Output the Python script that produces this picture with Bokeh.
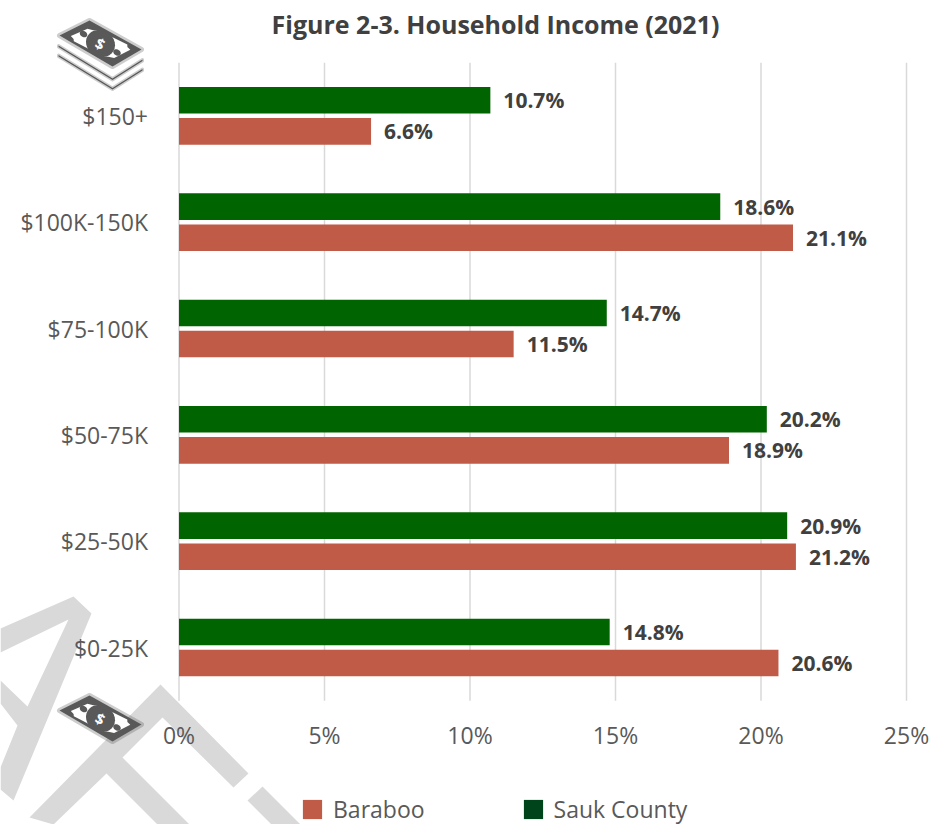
import math

from bokeh.core.properties import value
from bokeh.embed import file_html
from bokeh.models import ColumnDataSource, FixedTicker, Label, Legend, LegendItem, PolyAnnotation, Range1d
from bokeh.plotting import figure
from bokeh.resources import INLINE

categories = ["$0-25K", "$25-50K", "$50-75K", "$75-100K", "$100K-150K", "$150+"]
baraboo = [20.6, 21.2, 18.9, 11.5, 21.1, 6.6]
sauk_county = [14.8, 20.9, 20.2, 14.7, 18.6, 10.7]
x_ticks = [0, 5, 10, 15, 20, 25]

FONT = "Open Sans"
AXIS_TEXT = "#595959"
LABEL_TEXT = "#404040"
RUST = "#bf5b47"
GREEN = "#006400"
LEGEND_GREEN = "#00441b"
GRID = "#d9d9d9"
ICON = "#595959"

WIDTH, HEIGHT = 951, 824
PX_PER_PCT = 29.1
PX_PER_ROW = 106.33
ZERO_X = 178.5
FIRST_ROW_Y = 647

rows = list(range(len(categories)))
OFFSET = 0.146
BAR = 0.25
ROW_EDGE = 0.5

source = ColumnDataSource(dict(
    sauk_y=[r + OFFSET for r in rows],
    baraboo_y=[r - OFFSET for r in rows],
    baraboo=baraboo,
    sauk=sauk_county,
    baraboo_text=[f"{v:.1f}%" for v in baraboo],
    sauk_text=[f"{v:.1f}%" for v in sauk_county],
))

# The frame fills the page so that the icons and watermark can sit beyond the plotted area.
p = figure(
    width=WIDTH, height=HEIGHT,
    x_range=Range1d(-ZERO_X / PX_PER_PCT, (WIDTH - ZERO_X) / PX_PER_PCT),
    y_range=Range1d(-(HEIGHT - FIRST_ROW_Y) / PX_PER_ROW, FIRST_ROW_Y / PX_PER_ROW),
    output_backend="svg", toolbar_location=None,
    min_border=0, outline_line_color=None, background_fill_color="white", border_fill_color="white",
)

p.grid.visible = False

# Vertical rules stop at the category band instead of running the full height of the frame.
p.segment(
    x0=x_ticks, x1=x_ticks,
    y0=[rows[0] - ROW_EDGE] * len(x_ticks), y1=[rows[-1] + ROW_EDGE] * len(x_ticks),
    line_color=GRID, line_width=1.5,
)

p.xaxis.ticker = FixedTicker(ticks=x_ticks)
p.xaxis.major_label_overrides = {t: f"{t}%" for t in x_ticks}
p.xaxis.fixed_location = rows[0] - ROW_EDGE
p.xaxis.major_label_standoff = 12
p.yaxis.ticker = FixedTicker(ticks=rows)
p.yaxis.major_label_overrides = dict(zip(rows, categories))
p.yaxis.fixed_location = 0
p.yaxis.major_label_standoff = 25
for ax in (p.xaxis[0], p.yaxis[0]):
    ax.axis_line_color = None
    ax.major_tick_line_color = None
    ax.minor_tick_line_color = None
    ax.major_label_text_font = FONT
    ax.major_label_text_font_size = "23px"
    ax.major_label_text_color = AXIS_TEXT

p.hbar(y="sauk_y", right="sauk", left=0, height=BAR, source=source, fill_color=GREEN, line_color=None)
p.hbar(y="baraboo_y", right="baraboo", left=0, height=BAR, source=source, fill_color=RUST, line_color=None)

label_style = dict(
    source=source, x_offset=13, text_baseline="middle", text_align="left",
    text_font=value(FONT), text_font_style="bold", text_font_size="21px", text_color=LABEL_TEXT,
)
p.text(x="sauk", y="sauk_y", text="sauk_text", **label_style)
p.text(x="baraboo", y="baraboo_y", text="baraboo_text", **label_style)

# Legend keys use off-view renderers because the key green is darker than the bars.
key_baraboo = p.hbar(y=[-50], right=[1], height=BAR, fill_color=RUST, line_color=None)
key_sauk = p.hbar(y=[-50], right=[1], height=BAR, fill_color=LEGEND_GREEN, line_color=None)
legend = Legend(
    items=[LegendItem(label="Baraboo", renderers=[key_baraboo]), LegendItem(label="Sauk County", renderers=[key_sauk])],
    orientation="horizontal", location=(300, -1), background_fill_alpha=0, border_line_color=None,
    glyph_width=24, glyph_height=24, spacing=96, padding=0, margin=0, label_standoff=9,
    label_text_font=FONT, label_text_font_size="23px", label_text_color=AXIS_TEXT,
)
p.add_layout(legend, "center")

p.add_layout(Label(
    x=495, y=23, x_units="canvas", y_units="canvas", text="Figure 2-3. Household Income (2021)",
    text_align="center", text_baseline="middle", text_font=FONT, text_font_style="bold",
    text_font_size="25px", text_color=LABEL_TEXT,
))


def poly(points, color, level="annotation", stroke=0.0):
    p.add_layout(PolyAnnotation(
        xs=[pt[0] for pt in points], ys=[pt[1] for pt in points], xs_units="canvas", ys_units="canvas",
        level=level, fill_color=color, fill_alpha=1,
        line_color=color if stroke else None, line_width=stroke, line_join="round", editable=False,
    ))


# Diagonal watermark letter fragments behind the chart.
watermark = [
    [(0, 628), (73, 596), (91, 613), (13, 800), (0, 789), (0, 767), (17, 725), (0, 703), (0, 680), (27, 706), (68, 619), (0, 652)],
    [(160, 684), (248, 773), (233, 787), (162, 717), (122, 757), (189, 824), (157, 824), (106, 773), (53, 824), (29, 817)],
    [(262, 786), (300, 824), (271, 824), (247, 800)],
]
for shape in watermark:
    poly(shape, GRID, level="underlay")


def ellipse(cx, cy, rx, ry, tilt=30):
    t = math.radians(tilt)
    pts = []
    for k in range(28):
        a = 2 * math.pi * k / 28
        ex, ey = rx * math.cos(a), ry * math.sin(a)
        pts.append((cx + ex * math.cos(t) - ey * math.sin(t), cy + ex * math.sin(t) + ey * math.cos(t)))
    return pts


def notched(corners, cx, cy, cut=0.16, pull=0.1):
    """White note face: each corner is replaced by a small inward notch."""
    face = []
    n = len(corners)
    for i, (x, y) in enumerate(corners):
        px_, py_ = corners[i - 1]
        nx, ny = corners[(i + 1) % n]
        face.append((x + (px_ - x) * cut, y + (py_ - y) * cut))
        face.append((x + (cx - x) * pull * 2, y + (cy - y) * pull * 2))
        face.append((x + (nx - x) * cut, y + (ny - y) * cut))
    return face


def banknote(dy):
    corners = [(59, 35), (89, 20), (141, 49), (112, 66)]
    cx, cy = 100, 43
    poly([(x, y + dy) for x, y in corners], ICON, stroke=5)
    inner = [(cx + (x - cx) * 0.82, cy + (y - cy) * 0.72) for x, y in corners]
    poly([(x, y + dy) for x, y in notched(inner, cx, cy)], "white")
    poly(ellipse(cx, cy + dy, 15, 13), ICON)
    poly(ellipse(83, 33.5 + dy, 4, 3), ICON)
    poly(ellipse(116.5, 52 + dy, 4, 3), ICON)
    p.add_layout(Label(
        x=cx, y=cy + dy, x_units="canvas", y_units="canvas", text="$", angle=-0.5,
        text_align="center", text_baseline="middle", text_font=FONT, text_font_style="bold",
        text_font_size="15px", text_color="white",
    ))


banknote(0)
banknote(675)

# The two lower sheets of the stacked-notes icon.
for drop in (10, 19.5):
    top = [(58, 35 + drop), (112, 68 + drop), (142, 49 + drop)]
    poly(top + [(x, y + 1.5) for x, y in reversed(top)], ICON, stroke=3)

open("out.html", "w").write(file_html(p, INLINE))
